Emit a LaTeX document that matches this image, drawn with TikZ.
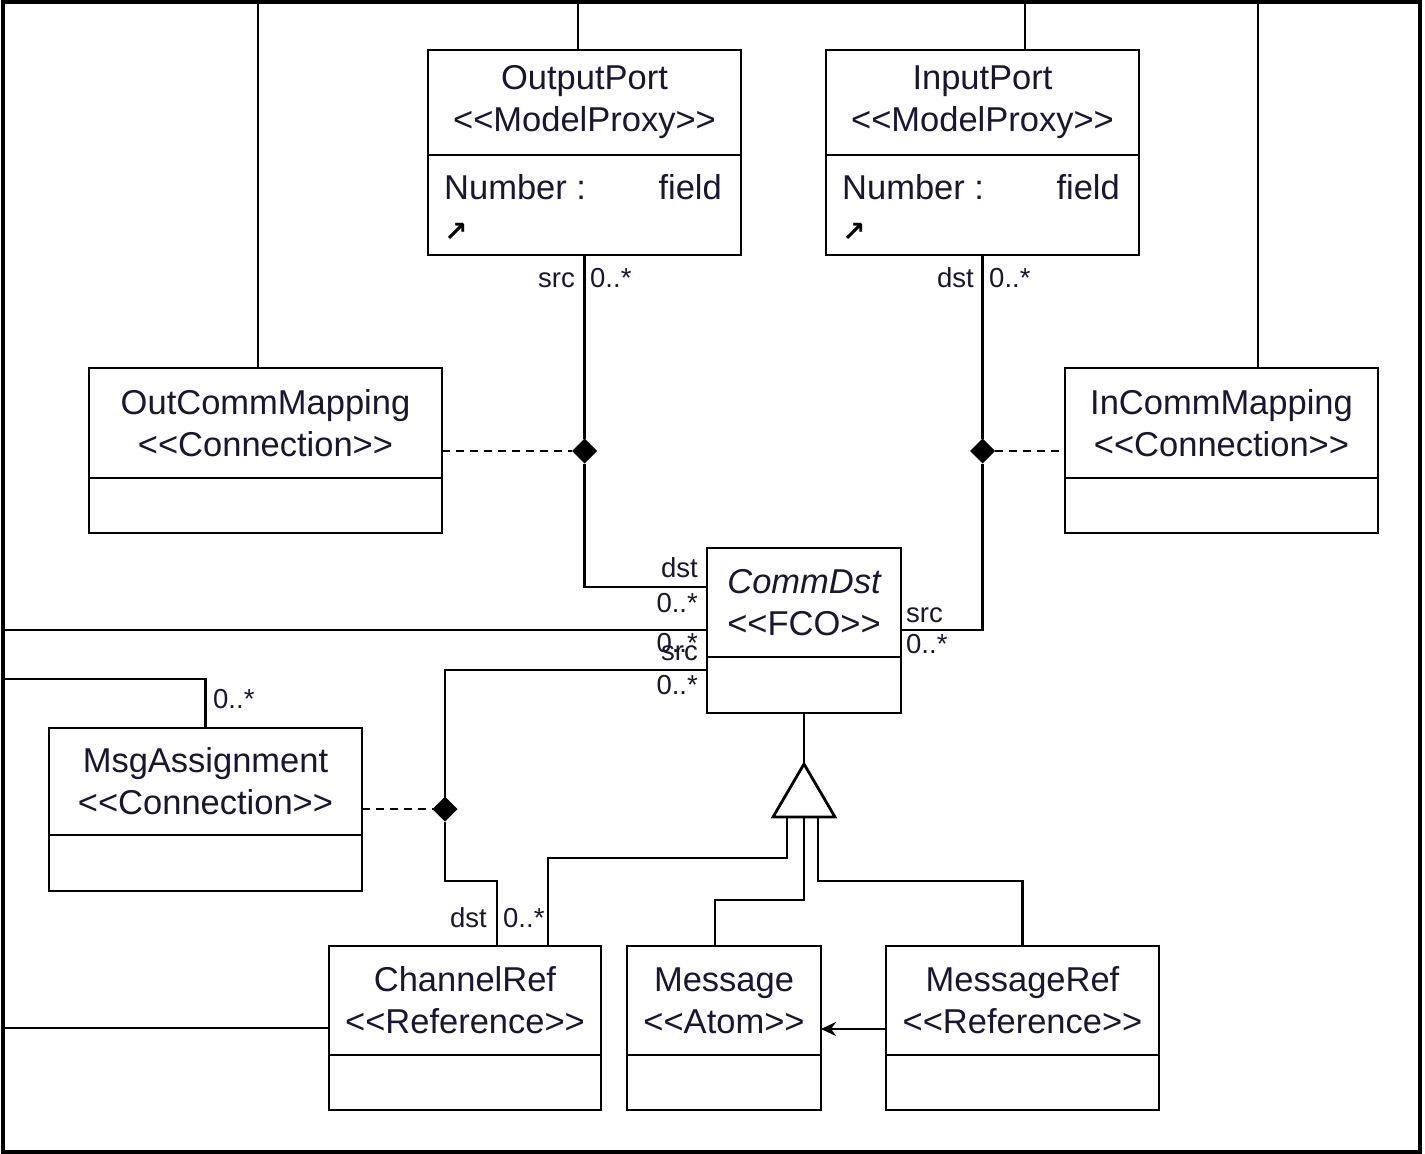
\documentclass[tikz,border=0pt]{standalone}
\usepackage{fontspec}
\setmainfont{Liberation Sans}
\newfontfamily\symbolfont{DejaVu Sans}
\usetikzlibrary{positioning,shapes.geometric,arrows.meta}
\definecolor{umltext}{HTML}{1B1532}
\newcommand{\stereo}[1]{<{}<#1>{}>}
\tikzset{
  classhead/.style={draw,line width=2.8pt,anchor=north west,inner sep=0pt,outer sep=0pt,
    align=center,text=umltext,font=\fontsize{34.5}{42}\selectfont},
  classbody/.style={draw,line width=2.8pt,inner sep=0pt,outer sep=0pt},
  attr/.style={inner sep=0pt,text=umltext,font=\fontsize{34.5}{42}\selectfont},
  linkmark/.style={inner sep=0pt,text=black,font=\symbolfont\bfseries\fontsize{28}{28}\selectfont},
  role/.style={inner sep=0pt,text=umltext,font=\fontsize{27.5}{30}\selectfont},
  owner/.style={diamond,fill=black,minimum size=25pt,inner sep=0pt,outer sep=0pt},
  wire/.style={line width=2.8pt},
  assoc/.style={line width=2.8pt,dash pattern=on 8pt off 6pt},
}
\begin{document}
\begin{tikzpicture}[x=1pt,y=-1pt]
  \useasboundingbox[fill=white] (0,0) rectangle (1425,1154);
  % frame of the cut-out
  \draw[line width=3.2pt] (3,2) rectangle (1420,1152);
  % ports
  \node[classhead,minimum width=313pt,minimum height=105pt] (outport) at (428,50) {OutputPort\\\stereo{ModelProxy}};
  \node[classbody,minimum width=313pt,minimum height=100pt,below=0pt of outport] (outportbody) {};
  \node[attr,anchor=base west] (outnum) at ([xshift=16pt,yshift=-44pt]outportbody.north west) {Number :};
  \node[attr,anchor=base east] (outfield) at ([xshift=-19pt,yshift=-44pt]outportbody.north east) {field};
  \node[linkmark,anchor=base west] (outlink) at ([xshift=16pt,yshift=-86pt]outportbody.north west) {↗};
  \node[classhead,minimum width=313pt,minimum height=105pt] (inport) at (826,50) {InputPort\\\stereo{ModelProxy}};
  \node[classbody,minimum width=313pt,minimum height=100pt,below=0pt of inport] (inportbody) {};
  \node[attr,anchor=base west] (innum) at ([xshift=16pt,yshift=-44pt]inportbody.north west) {Number :};
  \node[attr,anchor=base east] (infield) at ([xshift=-19pt,yshift=-44pt]inportbody.north east) {field};
  \node[linkmark,anchor=base west] (inlink) at ([xshift=16pt,yshift=-86pt]inportbody.north west) {↗};
  % connections
  \node[classhead,minimum width=353pt,minimum height=110pt] (outmap) at (89,368) {OutCommMapping\\\stereo{Connection}};
  \node[classbody,minimum width=353pt,minimum height=55pt,below=0pt of outmap] (outmapbody) {};
  \node[classhead,minimum width=313pt,minimum height=110pt] (inmap) at (1065,368) {InCommMapping\\\stereo{Connection}};
  \node[classbody,minimum width=313pt,minimum height=55pt,below=0pt of inmap] (inmapbody) {};
  \node[classhead,minimum width=313pt,minimum height=107pt] (msgassign) at (49,728) {MsgAssignment\\\stereo{Connection}};
  \node[classbody,minimum width=313pt,minimum height=56pt,below=0pt of msgassign] (msgassignbody) {};
  % fco and its kinds
  \node[classhead,minimum width=194pt,minimum height=109pt] (commdst) at (707,548) {\itshape CommDst\\\stereo{FCO}};
  \node[classbody,minimum width=194pt,minimum height=56pt,below=0pt of commdst] (commbody) {};
  \node[classhead,minimum width=272pt,minimum height=109pt] (chanref) at (329,946) {ChannelRef\\\stereo{Reference}};
  \node[classbody,minimum width=272pt,minimum height=55pt,below=0pt of chanref] (chanrefbody) {};
  \node[classhead,minimum width=194pt,minimum height=109pt] (msg) at (627,946) {Message\\\stereo{Atom}};
  \node[classbody,minimum width=194pt,minimum height=55pt,below=0pt of msg] (msgbody) {};
  \node[classhead,minimum width=273pt,minimum height=109pt] (msgref) at (886,946) {MessageRef\\\stereo{Reference}};
  \node[classbody,minimum width=273pt,minimum height=55pt,below=0pt of msgref] (msgrefbody) {};
  % lines leaving the cut-out
  \coordinate (edgeT1) at (258,2);
  \coordinate (edgeT2) at (578,2);
  \coordinate (edgeT3) at (1025,2);
  \coordinate (edgeT4) at (1258,2);
  \coordinate (edgeL1) at (3,630);
  \coordinate (edgeL2) at (3,679);
  \coordinate (edgeL3) at (3,1028);
  \draw[wire] (edgeT1) -- (outmap.north -| edgeT1);
  \draw[wire] (edgeT2) -- (outport.north -| edgeT2);
  \draw[wire] (edgeT3) -- (inport.north -| edgeT3);
  \draw[wire] (edgeT4) -- (inmap.north -| edgeT4);
  \draw[wire] (edgeL1) -- (commdst.west |- edgeL1);
  \draw[wire] (edgeL2) -| (msgassign.north);
  \draw[wire] (edgeL3) -- (chanref.west |- edgeL3);
  % associations with their connection classes
  \node[owner] (dOut) at (outportbody.south |- 0,451) {};
  \node[owner] (dIn) at (inportbody.south |- 0,451) {};
  \node[owner] (dChan) at (445,809) {};
  \draw[wire] (outportbody.south) -- (dOut) |- (commdst.west |- 0,587);
  \draw[assoc] (outmap.east |- dOut) -- (dOut);
  \draw[wire] (inportbody.south) -- (dIn) |- (commdst.east |- 0,630);
  \draw[assoc] (dIn) -- (inmap.west |- dIn);
  \draw[wire] (commbody.west |- 0,670) -| (dChan);
  \draw[wire] (dChan) -- (dChan |- 0,881) -| ([xshift=32pt]chanref.north);
  \draw[assoc] (msgassign.east |- dChan) -- (dChan);
  % role names and multiplicities
  \node[role,anchor=base east] (srcOut) at (575,287) {src};
  \node[role,anchor=base west] (mulOut) at (590,287) {0..*};
  \node[role,anchor=base east] (dstIn) at (974,287) {dst};
  \node[role,anchor=base west] (mulIn) at (989,287) {0..*};
  \node[role,anchor=base east] (dstComm) at (698,577) {dst};
  \node[role,anchor=base east] (mulCommA) at (698,612) {0..*};
  \node[role,anchor=base east] (mulCommB) at (698,652) {0..*};
  \node[role,anchor=base east] (srcComm) at (698,660) {src};
  \node[role,anchor=base east] (mulCommC) at (698,694) {0..*};
  \node[role,anchor=base west] (srcCommR) at (906,622) {src};
  \node[role,anchor=base west] (mulCommR) at (906,653) {0..*};
  \node[role,anchor=base west] (mulMsg) at (213,708) {0..*};
  \node[role,anchor=base east] (dstChan) at (487,927) {dst};
  \node[role,anchor=base west] (mulChan) at (503,927) {0..*};
  % inheritance
  \coordinate (genTop) at (commbody.south |- 0,764);
  \coordinate (genL) at ([xshift=-17pt,yshift=-53pt]genTop);
  \coordinate (genM) at ([yshift=-53pt]genTop);
  \coordinate (genR) at ([xshift=14pt,yshift=-53pt]genTop);
  \draw[wire] (commbody.south) -- (genTop);
  \draw[wire] (genL) -- ++(0,41) -| ([xshift=83pt]chanref.north);
  \draw[wire] (genM) -- ++(0,83) -| ([xshift=-9pt]msg.north);
  \draw[wire] (genR) -- ++(0,64) -| (msgref.north);
  \draw[wire,fill=white] (genTop) -- ++(-31,53) -- ++(62,0) -- cycle;
  % reference to message
  \draw[wire,-{Stealth[length=15pt,width=14pt]}] (msgref.west |- 0,1029) -- (msg.east |- 0,1029);
\end{tikzpicture}
\end{document}
